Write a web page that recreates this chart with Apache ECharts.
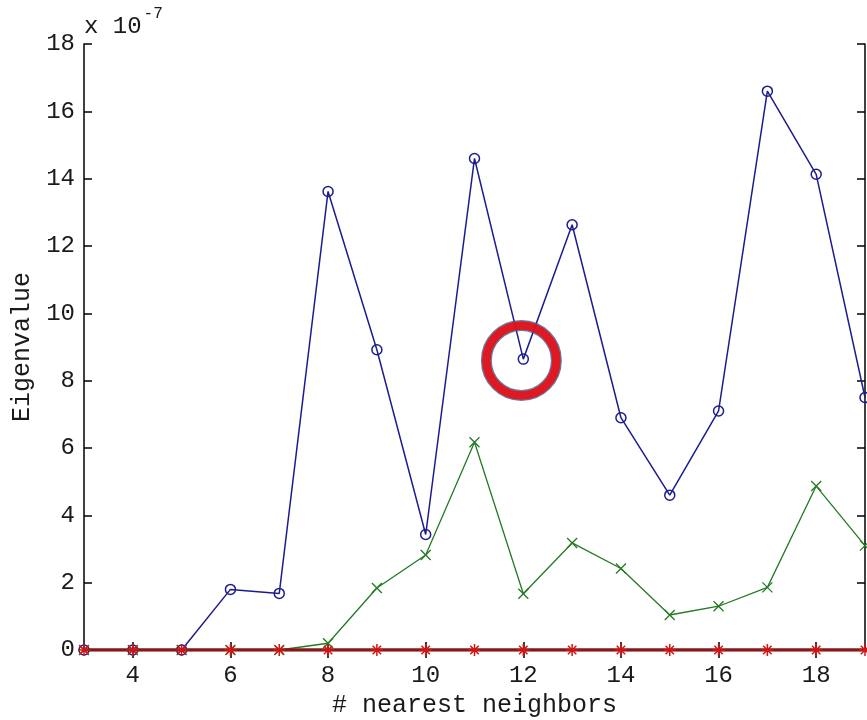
<!DOCTYPE html>
<html>
<head>
<meta charset="utf-8">
<script src="https://cdn.jsdelivr.net/npm/echarts@6/dist/echarts.min.js"></script>
<style>
html,body{margin:0;padding:0;background:#fff;}
#c{width:867px;height:720px;}
</style>
</head>
<body>
<div id="c"></div>
<script>
const xValues = [3,4,5,6,7,8,9,10,11,12,13,14,15,16,17,18,19];
const blueValues = [0,0,0,1.8,1.68,13.62,8.92,3.43,14.6,8.64,12.63,6.9,4.6,7.1,16.6,14.13,7.5];
const greenValues = [0,0,0,0,0,0.2,1.84,2.82,6.17,1.67,3.18,2.42,1.04,1.3,1.86,4.87,3.1];
const redValues = [0,0,0,0,0,0,0,0,0,0,0,0,0,0,0,0,0];
const xTickValues = [4,6,8,10,12,14,16,18];
const highlightPoint = [11.96, 8.6];

const FONT = '"Liberation Mono", "DejaVu Sans Mono", monospace';
const TXT = '#1a1a1a';
const pairs = vals => xValues.map((x,i)=>[x, vals[i]]);

const chart = echarts.init(document.getElementById('c'), null, {renderer:'canvas'});
const axisCommon = {
  axisLine:{show:true, lineStyle:{color:'#000', width:1.5}},
  splitLine:{show:false}
};
chart.setOption({
  animation:false,
  backgroundColor:'#fff',
  grid:{left:84, right:2, top:44, bottom:70, containLabel:false, outerBoundsMode:'none'},
  xAxis:[
    Object.assign({
      type:'value', min:3, max:19, position:'bottom',
      name:'# nearest neighbors', nameLocation:'middle', nameGap:43,
      nameTextStyle:{fontFamily:FONT, fontSize:25, color:TXT},
      axisTick:{show:true, inside:true, length:8, customValues:xTickValues, lineStyle:{color:'#000', width:1.5}},
      axisLabel:{show:true, customValues:xTickValues, fontFamily:FONT, fontSize:24, color:TXT, margin:14}
    }, axisCommon),
    Object.assign({
      type:'value', min:3, max:19, position:'top',
      axisTick:{show:true, inside:true, length:8, customValues:xTickValues, lineStyle:{color:'#000', width:1.5}},
      axisLabel:{show:false}
    }, axisCommon)
  ],
  yAxis:[
    Object.assign({
      type:'value', min:0, max:18, interval:2, position:'left',
      name:'Eigenvalue', nameLocation:'middle', nameGap:46,
      nameTextStyle:{fontFamily:FONT, fontSize:25, color:TXT},
      axisTick:{show:true, inside:true, length:8, lineStyle:{color:'#000', width:1.5}},
      axisLabel:{show:true, fontFamily:FONT, fontSize:24, color:TXT, margin:9}
    }, axisCommon),
    Object.assign({
      type:'value', min:0, max:18, interval:2, position:'right',
      axisTick:{show:true, inside:true, length:8, lineStyle:{color:'#000', width:1.5}},
      axisLabel:{show:false}
    }, axisCommon)
  ],
  graphic:[{
    type:'text', left:84, top:6,
    style:{
      text:'{a|x 10}{b|-7}',
      rich:{
        a:{fontFamily:FONT, fontSize:24, fill:TXT, padding:[16,0,0,0]},
        b:{fontFamily:FONT, fontSize:16, fill:TXT, padding:[0,0,10,2]}
      }
    }
  }],
  series:[
    {
      type:'line', data:pairs(blueValues), xAxisIndex:0, yAxisIndex:0,
      symbol:'circle', symbolSize:10, showAllSymbol:true,
      lineStyle:{color:'#1c1c8f', width:1.5},
      itemStyle:{color:'rgba(0,0,0,0)', borderColor:'#1c1c8f', borderWidth:1.5},
      z:2
    },
    {
      type:'line', data:pairs(greenValues),
      symbol:'path://M0,0 L10,10 M10,0 L0,10', symbolSize:10, showAllSymbol:true,
      lineStyle:{color:'#237a23', width:1.3},
      itemStyle:{color:'rgba(0,0,0,0)', borderColor:'#237a23', borderWidth:1.3},
      z:3
    },
    {
      type:'line', data:pairs(redValues),
      symbol:'path://M0,5 L10,5 M5,0 L5,10 M1.5,1.5 L8.5,8.5 M8.5,1.5 L1.5,8.5', symbolSize:12, showAllSymbol:true,
      lineStyle:{color:'#861818', width:3.5},
      itemStyle:{color:'rgba(0,0,0,0)', borderColor:'#d41414', borderWidth:1.5},
      z:4
    },
    {
      type:'scatter', data:[highlightPoint],
      symbol:'circle', symbolSize:70,
      itemStyle:{color:'rgba(0,0,0,0)', borderColor:'#3b5d8f', borderWidth:11},
      z:5, silent:true
    },
    {
      type:'scatter', data:[highlightPoint],
      symbol:'circle', symbolSize:70,
      itemStyle:{color:'rgba(0,0,0,0)', borderColor:'#ff0000', borderWidth:8.5},
      z:6, silent:true
    }
  ]
});
</script>
</body>
</html>
